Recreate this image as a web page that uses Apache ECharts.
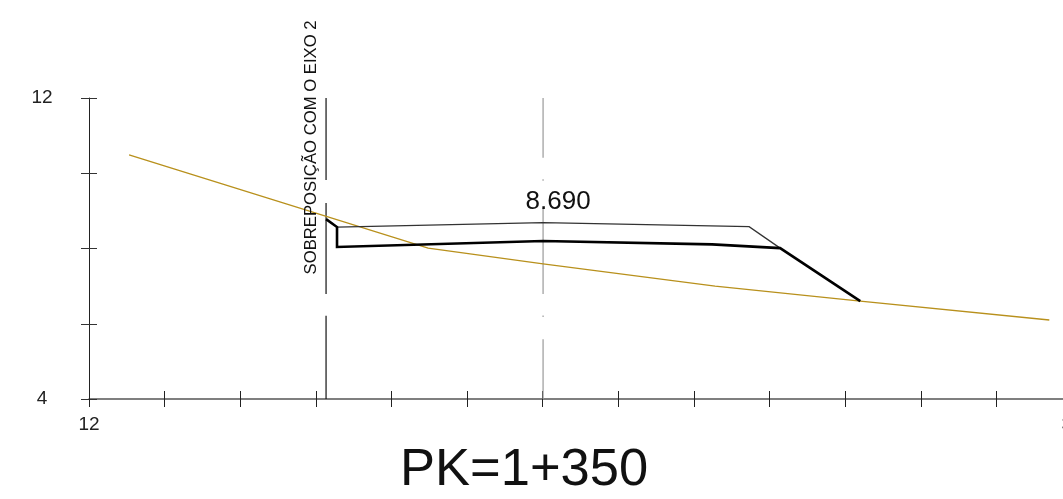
<!DOCTYPE html>
<html><head><meta charset="utf-8">
<style>html,body{margin:0;padding:0;background:#fff}#c{width:1063px;height:499px}</style>
<script src="https://cdn.jsdelivr.net/npm/echarts@6/dist/echarts.min.js"></script>
</head><body><div id="c"></div>
<script>
const ground = [[13.06,10.49],[20.97,8.01],[24.01,7.59],[28.56,7.00],[32.40,6.60],[37.40,6.10]];
const platformBase = [[18.27,8.78],[18.56,8.57],[18.56,8.04],[24.01,8.20],[28.48,8.11],[30.28,8.01],[32.40,6.60]];
const platformTop = [[18.56,8.57],[24.01,8.69],[29.46,8.58],[30.28,8.01]];
const axisX = [[24.01,12],[24.01,10.41],null,[24.01,9.84],[24.01,9.80],null,[24.01,9.08],[24.01,6.79],null,[24.01,6.22],[24.01,6.18],null,[24.01,5.59],[24.01,4]];
const overlapX = [[18.27,12],[18.27,9.82],null,[18.27,9.21],[18.27,6.79],null,[18.27,6.21],[18.27,4]];
const elevationLabel = [[24.01,8.69,'8.690']];
const overlapLabel = [[18.27,8.6,'SOBREPOSIÇÃO COM O EIXO 2']];
const title = 'PK=1+350';
const xRange = [12,38], yRange = [4,12], xStep = 2, yStep = 2;
const xShown = {12:'12',38:'38'};
const yShown = {12:'12',4:'4'};

const FONT = '"Liberation Sans", Arial, sans-serif';
const axisLine = {show:true,onZero:false,lineStyle:{color:'#555',width:1.5}};
const line = (data,color,width,z)=>({type:'line',data:data.map(d=>d===null?[null,null]:d),connectNulls:false,showSymbol:false,symbol:'none',silent:true,z:z,
  lineStyle:{color,width,cap:'butt',join:'miter'}});
const chart = echarts.init(document.getElementById('c'),null,{renderer:'canvas'});
chart.setOption({
  animation:false,
  backgroundColor:'#fff',
  title:{text:title,left:395,top:439,textStyle:{fontFamily:FONT,fontSize:52.5,fontWeight:'normal',color:'#111'}},
  grid:{left:89,width:983,top:98,height:301,containLabel:false,outerBoundsMode:'none'},
  xAxis:[
    {type:'value',min:xRange[0],max:xRange[1],interval:xStep,position:'bottom',splitLine:{show:false},axisLine,
     axisTick:{show:true,length:8,lineStyle:{color:'#222',width:1}},
     axisLabel:{show:true,margin:16,color:'#222',fontSize:19,fontFamily:FONT,showMinLabel:true,showMaxLabel:true,hideOverlap:false,formatter:v=>xShown[v]||''}},
    {type:'value',min:xRange[0],max:xRange[1],interval:xStep,position:'bottom',splitLine:{show:false},axisLine:{show:false,onZero:false},
     axisTick:{show:true,inside:true,length:8,lineStyle:{color:'#222',width:1}},axisLabel:{show:false}}
  ],
  yAxis:[
    {type:'value',min:yRange[0],max:yRange[1],interval:yStep,position:'left',splitLine:{show:false},axisLine:{show:true,onZero:false,lineStyle:{color:'#222',width:1}},
     axisTick:{show:true,length:8,lineStyle:{color:'#333',width:1}},
     axisLabel:{show:true,margin:47,align:'center',color:'#222',fontSize:19,fontFamily:FONT,formatter:v=>yShown[v]||''}},
    {type:'value',min:yRange[0],max:yRange[1],interval:yStep,position:'left',splitLine:{show:false},axisLine:{show:false,onZero:false},
     axisTick:{show:true,inside:true,length:8,lineStyle:{color:'#333',width:1}},axisLabel:{show:false}}
  ],
  series:[
    line(axisX,'#999',1.2,1),
    line(overlapX,'#111',1.2,2),
    line(ground,'#b8901c',1.3,3),
    line(platformTop,'#333',1.3,4),
    line(platformBase,'#000',2.6,5),
    {type:'scatter',data:elevationLabel,symbolSize:0,silent:true,z:6,itemStyle:{opacity:1},
     label:{show:true,position:'top',distance:0,offset:[15,-8],formatter:p=>p.data[2],fontFamily:FONT,fontSize:26,color:'#111'}},
    {type:'scatter',data:overlapLabel,symbolSize:0,silent:true,z:6,itemStyle:{opacity:1},
     label:{show:true,position:'inside',offset:[78.5,-14.5],rotate:90,formatter:p=>p.data[2],fontFamily:FONT,fontSize:16.7,color:'#111'}}
  ]
});
</script></body></html>
